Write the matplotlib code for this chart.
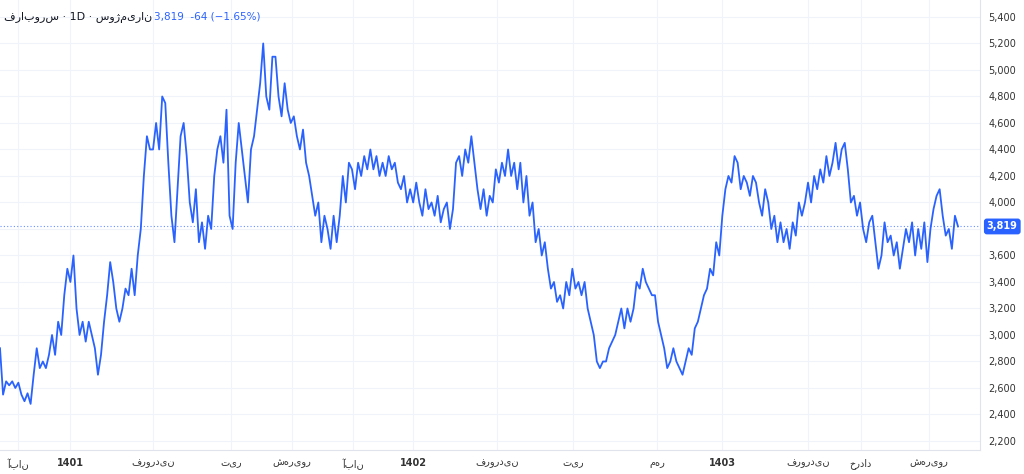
import matplotlib
matplotlib.use("Agg")
import matplotlib.pyplot as plt

prices = [2900,2550,2650,2620,2650,2600,2640,2550,2500,2560,2480,2700,2900,2750,2800,2750,2850,3000,2850,3100,3000,3300,3500,3400,3600,3200,3000,3100,2950,3100,3000,2900,2700,2850,3100,3300,3550,3400,3200,3100,3200,3350,3300,3500,3300,3600,3800,4200,4500,4400,4400,4600,4400,4800,4750,4300,3900,3700,4100,4500,4600,4350,4000,3850,4100,3700,3850,3650,3900,3800,4200,4400,4500,4300,4700,3900,3800,4300,4600,4400,4200,4000,4400,4500,4700,4900,5200,4800,4700,5100,5100,4800,4650,4900,4700,4600,4650,4500,4400,4550,4300,4200,4050,3900,4000,3700,3900,3800,3650,3900,3700,3900,4200,4000,4300,4250,4100,4300,4200,4350,4250,4400,4250,4350,4200,4300,4200,4350,4250,4300,4150,4100,4200,4000,4100,4000,4150,4000,3900,4100,3950,4000,3900,4050,3850,3950,4000,3800,3950,4300,4350,4200,4400,4300,4500,4300,4100,3950,4100,3900,4050,4000,4250,4150,4300,4200,4400,4200,4300,4100,4300,4000,4200,3900,4000,3700,3800,3600,3700,3500,3350,3400,3250,3300,3200,3400,3300,3500,3350,3400,3300,3400,3200,3100,3000,2800,2750,2800,2800,2900,2950,3000,3100,3200,3050,3200,3100,3200,3400,3350,3500,3400,3350,3300,3300,3100,3000,2900,2750,2800,2900,2800,2750,2700,2800,2900,2850,3050,3100,3200,3300,3350,3500,3450,3700,3600,3900,4100,4200,4150,4350,4300,4100,4200,4150,4050,4200,4150,4000,3900,4100,4000,3800,3900,3700,3850,3700,3800,3650,3850,3750,4000,3900,4000,4150,4000,4200,4100,4250,4150,4350,4200,4300,4450,4250,4400,4450,4250,4000,4050,3900,4000,3800,3700,3850,3900,3700,3500,3600,3850,3700,3750,3600,3700,3500,3650,3800,3700,3850,3600,3800,3650,3850,3550,3800,3950,4050,4100,3900,3750,3800,3650,3900,3819]
tick_labels = ["آبان","1401","فروردین","تیر","شهریور","آبان","1402","فروردین","تیر","مهر","1403","فروردین","خرداد","شهریور"]
tick_px = [18,70,153,231,292,353,413,497,573,657,722,808,861,929]
y_ticks = list(range(2200, 5401, 200))
last = 3819

n = len(prices)
scale = (n - 1) / 958.0  # index units per pixel
fig = plt.figure(figsize=(10.24,4.74), dpi=100)
ax = fig.add_axes([0, 24/474, 980/1024, 450/474])
x = list(range(n))
ax.plot(x, prices, color="#2962ff", lw=1.3)
ax.set_xlim(0, 980 * scale)
ax.set_ylim(2132, 5528)
ax.yaxis.tick_right()
ax.set_yticks(y_ticks)
ax.set_yticklabels(["" if v == 3800 else f"{v:,}" for v in y_ticks], fontsize=7, color="#333")
ax.set_xticks([p * scale for p in tick_px])
ax.set_xticklabels(tick_labels, fontsize=7, color="#333")
for lbl in ax.get_xticklabels():
    if lbl.get_text().isdigit():
        lbl.set_fontweight("bold")
ax.tick_params(length=0, pad=6)
ax.grid(color="#f0f3fa", lw=0.8)
for s in ax.spines.values():
    s.set_visible(False)
ax.spines["right"].set_visible(True); ax.spines["right"].set_color("#e0e3eb")
ax.spines["bottom"].set_visible(True); ax.spines["bottom"].set_color("#e0e3eb")
ax.axhline(last, color="#2962ff", lw=0.8, ls=(0,(1,2)), alpha=0.7)
ax.text(1.007, last, f"{last:,}", transform=ax.get_yaxis_transform(), va="center", ha="left",
        fontsize=7, color="white", fontweight="bold",
        bbox=dict(boxstyle="round,pad=0.3", fc="#2962ff", ec="none"))
fig.text(0.004, 0.975, "فرابورس · 1D · سوژمیران", fontsize=8, color="#131722", va="top")
fig.text(0.15, 0.975, "3,819  -64 (−1.65%)", fontsize=7.5, color="#2962ff", va="top")
fig.savefig("out.png", dpi=100, facecolor="white")
